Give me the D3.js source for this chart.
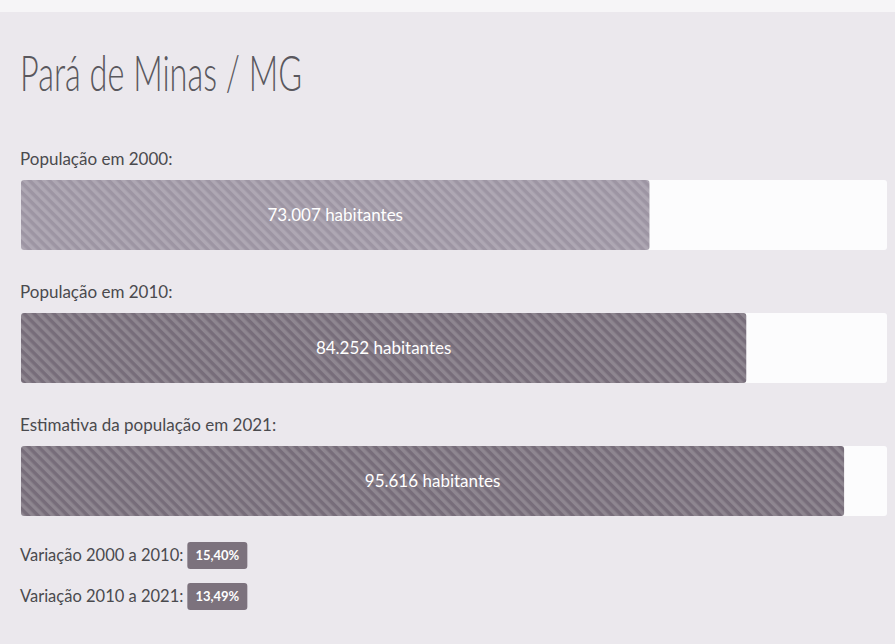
<!DOCTYPE html>
<html>
<head>
<meta charset="utf-8">
<script src="https://cdn.jsdelivr.net/npm/d3@7"></script>
<style>
  html, body { margin: 0; padding: 0; background: #ebe8ed; }
  svg { display: block; }
  text { font-family: Lato, "Open Sans", sans-serif; }
</style>
</head>
<body>
<svg id="chart" width="895" height="644"></svg>
<script>
// ---- data ----
const title = "Pará de Minas / MG";
const categories = ["População em 2000:", "População em 2010:", "Estimativa da população em 2021:"];
const populations = [73007, 84252, 95616];
const unitLabel = "habitantes";
const variationLabels = ["Variação 2000 a 2010:", "Variação 2010 a 2021:"];
const variationValues = [15.40, 13.49];
const scaleMax = 100600;

// ---- setup ----
const W = 895, H = 644;
const svg = d3.select("#chart");
const ptBR = d3.formatLocale({decimal: ",", thousands: ".", grouping: [3], currency: ["R$", ""]});
const fmtInt = ptBR.format(",d");
const fmtPct = v => ptBR.format(".2f")(v) + "%";

// background
svg.append("rect").attr("width", W).attr("height", H).attr("fill", "#ebe8ed");
svg.append("rect").attr("width", W).attr("height", 12).attr("fill", "#f6f5f7");

const defs = svg.append("defs");
function stripe(id, base) {
  const p = defs.append("pattern").attr("id", id)
    .attr("patternUnits", "userSpaceOnUse").attr("width", 7).attr("height", 7)
    .attr("patternTransform", "rotate(-45)");
  p.append("rect").attr("width", 7).attr("height", 7).attr("fill", base);
  p.append("rect").attr("width", 3.5).attr("height", 7).attr("fill", "rgba(255,255,255,0.17)");
}
stripe("s1", "#9d95a3");
stripe("s2", "#776d7a");

const x = d3.scaleLinear().domain([0, scaleMax]).range([21, 887]);
const y = d3.scaleBand().domain(categories).range([180, 516]).paddingInner(0.474).paddingOuter(0);

// title
svg.append("text").attr("x", 20).attr("y", 91)
  .attr("font-size", 50).attr("font-weight", 300).attr("fill", "#5a585e")
  .attr("textLength", 282).attr("lengthAdjust", "spacingAndGlyphs")
  .text(title);

const g = svg.append("g");
categories.forEach((c, i) => {
  const top = y(c), bh = y.bandwidth();
  g.append("text").attr("x", 20).attr("y", top - 15)
    .attr("font-size", 17).attr("fill", "#4a4a4e").text(c);
  g.append("rect").attr("x", x(0)).attr("y", top).attr("width", x(scaleMax) - x(0)).attr("height", bh)
    .attr("rx", 3).attr("fill", "#fcfcfd");
  g.append("rect").attr("x", x(0)).attr("y", top).attr("width", x(populations[i]) - x(0)).attr("height", bh)
    .attr("rx", 3).attr("fill", i === 0 ? "url(#s1)" : "url(#s2)");
  g.append("text").attr("x", (x(0) + x(populations[i])) / 2).attr("y", top + bh / 2)
    .attr("dy", "0.35em").attr("text-anchor", "middle")
    .attr("font-size", 17).attr("fill", "#ffffff")
    .text(fmtInt(populations[i]) + " " + unitLabel);
});

// variations
const vy = d3.scaleBand().domain(variationLabels).range([542, 610]).paddingInner(0.34).paddingOuter(0);
variationLabels.forEach((lab, i) => {
  const top = vy(lab), bh = vy.bandwidth();
  const t = svg.append("text").attr("x", 20).attr("y", top + bh / 2)
    .attr("dy", "0.35em").attr("font-size", 16.5).attr("fill", "#4a4a4e").text(lab);
  const tw = t.node().getComputedTextLength();
  const bx = 20 + tw + 4;
  svg.append("rect").attr("x", bx).attr("y", top).attr("width", 60).attr("height", bh)
    .attr("rx", 3).attr("fill", "#7c727d");
  svg.append("text").attr("x", bx + 30).attr("y", top + bh / 2).attr("dy", "0.35em")
    .attr("text-anchor", "middle").attr("font-size", 13).attr("font-weight", 700)
    .attr("fill", "#ffffff").text(fmtPct(variationValues[i]));
});
</script>
</body>
</html>
